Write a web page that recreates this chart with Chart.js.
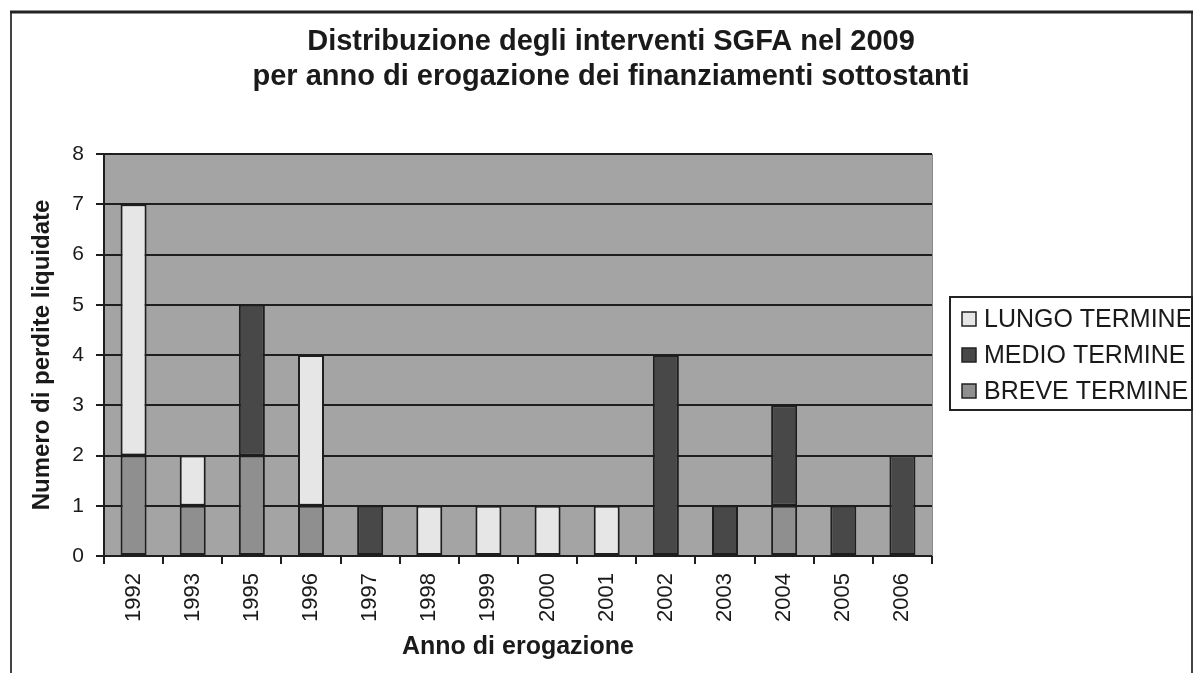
<!DOCTYPE html>
<html><head><meta charset="utf-8">
<script src="https://cdn.jsdelivr.net/npm/chart.js@4.4.0/dist/chart.umd.min.js"></script>
<style>html,body{margin:0;padding:0;background:#fff;overflow:hidden}#w{width:1195px;height:673px;position:relative}</style>
</head><body><div id="w"><canvas id="c" width="1195" height="673"></canvas></div>
<script>
const categories = ['1992','1993','1995','1996','1997','1998','1999','2000','2001','2002','2003','2004','2005','2006'];
const breveTermine = [2,1,2,1,0,0,0,0,0,0,0,1,0,0];
const medioTermine = [0,0,3,0,1,0,0,0,0,4,1,2,1,2];
const lungoTermine = [5,1,0,3,0,1,1,1,1,0,0,0,0,0];
const yTicks = [0,1,2,3,4,5,6,7,8];
const titleLines = ['Distribuzione degli interventi SGFA nel 2009','per anno di erogazione dei finanziamenti sottostanti'];
const seriesNames = ['BREVE TERMINE','MEDIO TERMINE','LUNGO TERMINE'];

const COL = {breve:'#8f8f8f', medio:'#484848', lungo:'#e6e6e6', plot:'#a4a4a4', line:'#1e1e1e', text:'#1a1a1a'};
const FONT = "'Liberation Sans', Arial, sans-serif";
const nz = a => a.map(v => v === 0 ? null : v);

const bgPlugin = {
  id:'bg',
  beforeDraw(chart){
    const {ctx, chartArea:a} = chart;
    ctx.save();
    ctx.fillStyle = '#fff';
    ctx.fillRect(0,0,chart.width,chart.height);
    ctx.fillStyle = COL.plot;
    ctx.fillRect(a.left, a.top, a.right-a.left, a.bottom-a.top);
    ctx.restore();
  },
  afterDraw(chart){
    const {ctx, chartArea:a} = chart;
    ctx.save();
    // thin right edge of plot area
    ctx.strokeStyle = '#8a8a8a';
    ctx.lineWidth = 1;
    ctx.beginPath(); ctx.moveTo(a.right + 0.5, a.top); ctx.lineTo(a.right + 0.5, a.bottom); ctx.stroke();
    // outer frame
    ctx.strokeStyle = '#444';
    ctx.lineWidth = 2;
    ctx.beginPath();
    ctx.moveTo(11, 680); ctx.lineTo(11, 12); ctx.lineTo(1192, 12); ctx.lineTo(1192, 680);
    ctx.stroke();
    ctx.strokeStyle = '#222';
    ctx.lineWidth = 3;
    ctx.beginPath(); ctx.moveTo(10, 12); ctx.lineTo(1193, 12); ctx.stroke();
    // legend box
    const lx = 950, ly = 297, lw = 242, lh = 113;
    ctx.strokeStyle = '#222';
    ctx.lineWidth = 2;
    ctx.strokeRect(lx, ly, lw, lh);
    ctx.beginPath(); ctx.rect(lx, ly, 1190 - lx, lh); ctx.clip();
    const items = [
      {label: seriesNames[2], color: COL.lungo},
      {label: seriesNames[1], color: COL.medio},
      {label: seriesNames[0], color: COL.breve}
    ];
    ctx.font = '25px ' + FONT;
    ctx.textBaseline = 'middle';
    ctx.textAlign = 'left';
    items.forEach((it, i) => {
      const cy = 319 + i * 36;
      ctx.fillStyle = it.color;
      ctx.fillRect(962, cy - 7, 14, 14);
      ctx.strokeStyle = '#222';
      ctx.lineWidth = 1.5;
      ctx.strokeRect(962, cy - 7, 14, 14);
      ctx.fillStyle = COL.text;
      ctx.fillText(it.label, 984, cy + 1);
    });
    ctx.restore();
  }
};

const ds = (label, data, color) => ({
  label, data: nz(data), backgroundColor: color, borderColor: COL.line, borderWidth: 2,
  borderSkipped: false, barPercentage: 0.44, categoryPercentage: 1
});

new Chart(document.getElementById('c'), {
  type: 'bar',
  data: {
    labels: categories,
    datasets: [
      ds(seriesNames[0], breveTermine, COL.breve),
      ds(seriesNames[1], medioTermine, COL.medio),
      ds(seriesNames[2], lungoTermine, COL.lungo)
    ]
  },
  options: {
    responsive: false,
    animation: false,
    layout: {padding: {left: 27, right: 0, top: 0, bottom: 0}},
    plugins: {
      legend: {display: false},
      tooltip: {enabled: false},
      title: {
        display: true, text: titleLines, color: COL.text,
        font: {family: FONT, size: 29, weight: 'bold', lineHeight: 1.207},
        padding: {top: 24, bottom: 60}
      }
    },
    scales: {
      x: {
        stacked: true,
        afterFit(s){ s.height = 117; },
        grid: {display: true, offset: true, drawOnChartArea: false, drawTicks: true, tickLength: 8, color: COL.line, lineWidth: 2},
        border: {display: true, color: COL.line, width: 2},
        ticks: {color: COL.text, font: {family: FONT, size: 22}, minRotation: 90, maxRotation: 90, padding: 9, autoSkip: false},
        title: {display: true, text: 'Anno di erogazione', color: COL.text, font: {family: FONT, size: 25, weight: 'bold', lineHeight: 1.2}, padding: {top: 0, bottom: 11}}
      },
      y: {
        stacked: true, min: 0, max: 8,
        afterFit(s){ s.width = 77; },
        afterBuildTicks(s){ s.ticks = yTicks.map(v => ({value: v})); },
        grid: {display: true, drawOnChartArea: true, drawTicks: true, tickLength: 8, color: COL.line, lineWidth: 2},
        border: {display: true, color: COL.line, width: 2},
        ticks: {color: COL.text, font: {family: FONT, size: 21}, padding: 12},
        title: {display: true, text: 'Numero di perdite liquidate', color: COL.text, font: {family: FONT, size: 24, weight: 'bold', lineHeight: 1.2}, padding: {top: 1, bottom: 0}}
      },
      spacer: {
        type: 'linear', axis: 'y', position: 'right', display: true,
        afterFit(s){ s.width = 263; },
        grid: {display: false, drawTicks: false, drawOnChartArea: false},
        border: {display: false},
        ticks: {display: false}
      }
    }
  },
  plugins: [bgPlugin]
});
</script></body></html>
